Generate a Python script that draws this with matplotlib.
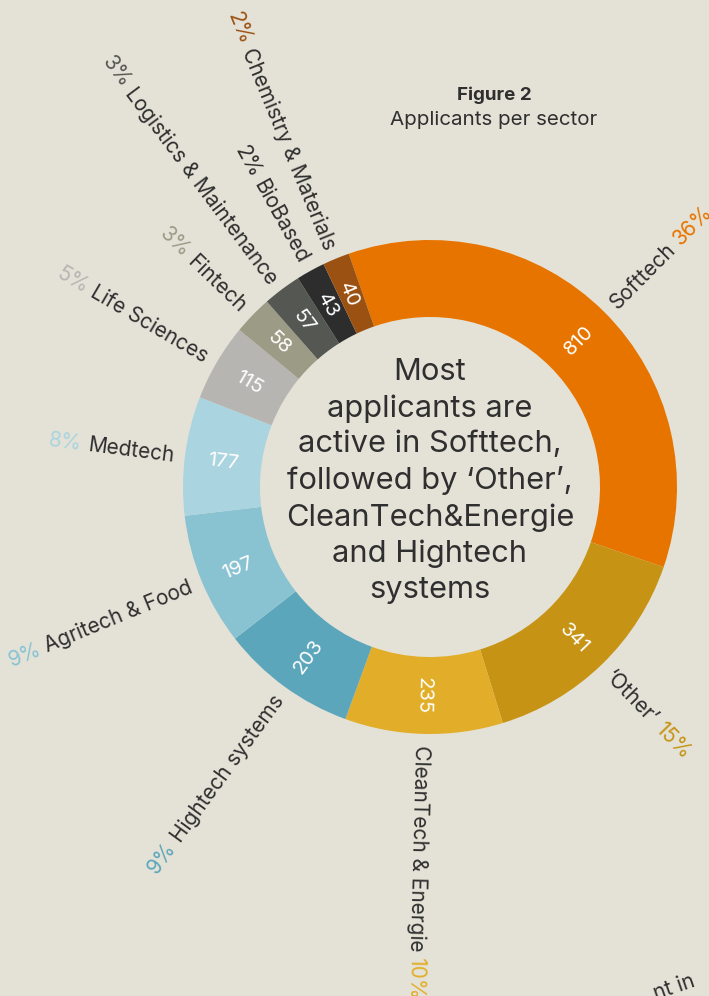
import numpy as np
import matplotlib.pyplot as plt

plt.rcParams['font.family'] = ['Inter', 'DejaVu Sans']

# data (clockwise from Softtech)
sectors = ['Softtech', '\u2018Other\u2019', 'CleanTech & Energie', 'Hightech systems',
           'Agritech & Food', 'Medtech', 'Life Sciences', 'Fintech',
           'Logistics & Maintenance', 'BioBased', 'Chemistry & Materials']
counts = [810, 341, 235, 203, 197, 177, 115, 58, 57, 43, 40]
percents = [36, 15, 10, 9, 9, 8, 5, 3, 3, 2, 2]
colors = ['#e87400', '#c69314', '#e2ae2a', '#5ca6bb', '#89c3d2', '#aad4df',
          '#b6b5b2', '#9c9b86', '#555753', '#2d2d2d', '#9b5111']
pct_colors = ['#e87400', '#c69314', '#e2ae2a', '#5ca6bb', '#89c3d2', '#aad4df',
              '#b6b5b2', '#9c9b86', '#555753', '#2d2d2d', '#9b5111']

bg = '#e4e2d7'
dark = '#2f2f2f'

W, H = 709, 996
cx, cy = 430, H - 487
R, r_in = 247, 170

fig = plt.figure(figsize=(W / 100, H / 100), dpi=100)
fig.patch.set_facecolor(bg)
ax = fig.add_axes([0, 0, 1, 1])
ax.set_facecolor(bg)

wedges, _ = ax.pie(counts, colors=colors, radius=R, center=(cx, cy),
                   startangle=90 + 19.2, counterclock=False,
                   wedgeprops=dict(width=R - r_in, edgecolor='none', linewidth=0))
ax.set_xlim(0, W)
ax.set_ylim(0, H)
ax.set_aspect('auto')
ax.axis('off')

renderer = fig.canvas.get_renderer()


def text_width(s, size):
    t = ax.text(0, 0, s, fontsize=size)
    w = t.get_window_extent(renderer).width
    t.remove()
    return w


lab_size = 15
num_size = 14.5
r0 = 258
gap = 6

for w, name, n, p, pc in zip(wedges, sectors, counts, percents, pct_colors):
    mid = (w.theta1 + w.theta2) / 2
    a = np.radians(mid)
    dx, dy = np.cos(a), np.sin(a)
    if dx > -0.05:
        rot, ha = mid, 'left'
    else:
        rot, ha = mid - 180, 'right'

    # count inside the ring
    rm = (R + r_in) / 2
    ax.text(cx + rm * dx, cy + rm * dy, str(n), color='white', fontsize=num_size,
            rotation=rot, rotation_mode='anchor', ha='center', va='center_baseline')

    # sector name + percent outside
    ax.text(cx + r0 * dx, cy + r0 * dy, name, color=dark, fontsize=lab_size,
            rotation=rot, rotation_mode='anchor', ha=ha, va='center_baseline')
    rp = r0 + text_width(name, lab_size) + gap
    ax.text(cx + rp * dx, cy + rp * dy, '%d%%' % p, color=pc, fontsize=lab_size,
            rotation=rot, rotation_mode='anchor', ha=ha, va='center_baseline')

center_txt = ('Most\napplicants are\nactive in Softtech,\nfollowed by \u2018Other\u2019,\n'
              'CleanTech&Energie\nand Hightech\nsystems')
ax.text(cx, H - 481, center_txt, color=dark, fontsize=22.2, ha='center', va='center',
        multialignment='center', linespacing=1.35)

ax.text(494, H - 95, 'Figure 2', color=dark, fontsize=13.5, fontweight='bold',
        ha='center', va='center')
ax.text(494, H - 120, 'Applicants per sector', color=dark, fontsize=14.8,
        ha='center', va='center')

# partial text cut off at the lower right corner
ax.text(656, -4, 'nt in', color=dark, fontsize=15, rotation=19,
        rotation_mode='anchor', ha='left', va='baseline')

fig.savefig('out.png', dpi=100, facecolor=bg)
